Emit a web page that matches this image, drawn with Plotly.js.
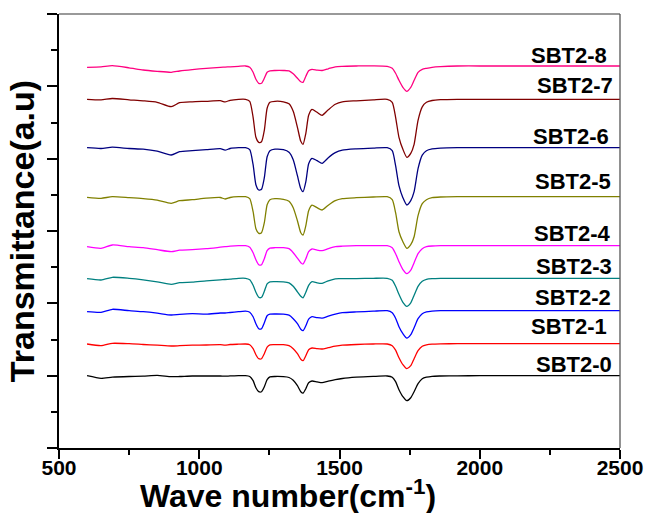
<!DOCTYPE html>
<html>
<head>
<meta charset="utf-8">
<script src="https://cdn.plot.ly/plotly-3.0.1.min.js"></script>
<style>html,body{margin:0;padding:0;background:#fff;}#chart{width:647px;height:513px;}</style>
</head>
<body>
<div id="chart"></div>
<script>
// Wave number grid (cm^-1)
const wavenumber = [600, 650, 690, 750, 800, 850, 900, 930, 975, 1025, 1075, 1092, 1110, 1140, 1165, 1180, 1192, 1202, 1212, 1222, 1232, 1242, 1252, 1270, 1300, 1320, 1335, 1350, 1362, 1370, 1380, 1390, 1402, 1420, 1438, 1460, 1485, 1510, 1560, 1620, 1670, 1688, 1700, 1712, 1726, 1740, 1754, 1766, 1780, 1795, 1810, 1830, 1860, 1920, 2000, 2100, 2200, 2300, 2400, 2500];

// Transmittance (a.u., offset-stacked)
const sbt2_0 = [72.3, 69.7, 70.8, 71.5, 71.8, 72.6, 71.3, 71.5, 72.0, 72.0, 72.0, 71.8, 72.1, 72.3, 72.3, 71.5, 67.3, 60.3, 56.3, 56.3, 61.3, 68.3, 71.1, 71.5, 71.3, 70.5, 67.8, 62.3, 56.3, 54.8, 59.3, 65.3, 67.0, 66.1, 65.3, 66.8, 68.3, 69.5, 70.8, 71.6, 72.0, 70.8, 66.3, 58.3, 51.3, 47.3, 50.3, 56.3, 64.3, 69.3, 70.8, 71.7, 72.0, 72.2, 72.3, 72.3, 72.3, 72.3, 72.3, 72.3];
const sbt2_1 = [104.0, 102.3, 104.7, 104.3, 103.5, 102.8, 102.0, 102.3, 102.8, 103.0, 103.3, 102.8, 103.5, 103.8, 104.0, 103.3, 99.3, 93.3, 89.3, 89.3, 94.3, 100.8, 103.1, 103.3, 103.3, 102.3, 99.3, 94.3, 88.8, 87.3, 92.3, 98.3, 100.0, 99.3, 99.0, 100.3, 101.8, 102.8, 103.5, 104.0, 104.0, 102.3, 97.8, 90.3, 83.3, 79.3, 82.3, 89.3, 97.3, 101.8, 103.1, 103.8, 104.1, 104.3, 104.3, 104.3, 104.3, 104.3, 104.3, 104.3];
const sbt2_2 = [136.3, 135.7, 138.7, 137.3, 136.3, 134.8, 133.0, 133.7, 134.3, 133.8, 135.0, 135.0, 135.5, 136.3, 136.8, 135.8, 131.3, 124.3, 119.3, 119.3, 125.3, 132.3, 133.8, 134.0, 133.8, 132.8, 129.3, 124.3, 118.8, 117.3, 122.3, 128.8, 131.3, 130.3, 129.8, 131.8, 133.8, 135.3, 136.1, 136.8, 137.3, 135.3, 129.8, 121.3, 114.3, 109.8, 113.3, 120.3, 129.3, 134.3, 136.1, 136.9, 137.3, 137.3, 137.3, 137.3, 137.3, 137.3, 137.3, 137.3];
const sbt2_3 = [169.3, 168.0, 170.7, 169.7, 168.2, 166.2, 163.7, 165.3, 165.9, 167.2, 168.2, 168.5, 168.9, 169.7, 169.7, 168.2, 162.7, 155.7, 150.7, 150.7, 156.7, 164.2, 166.2, 166.4, 166.2, 165.2, 161.7, 156.2, 151.7, 150.2, 155.7, 162.7, 166.3, 165.2, 164.7, 167.2, 169.2, 169.3, 169.4, 169.7, 169.7, 167.7, 161.7, 153.7, 145.7, 141.7, 145.2, 152.7, 161.7, 166.7, 168.7, 169.4, 169.7, 169.7, 169.7, 169.7, 169.7, 169.7, 169.7, 169.7];
const sbt2_4 = [201.3, 199.7, 203.0, 201.3, 200.3, 198.3, 196.3, 197.8, 198.3, 199.3, 200.8, 201.3, 201.8, 202.3, 202.3, 200.8, 195.3, 188.3, 183.3, 183.3, 189.3, 197.3, 199.8, 200.3, 200.3, 199.3, 195.3, 189.8, 185.3, 184.0, 189.3, 196.3, 199.0, 197.8, 197.3, 199.3, 201.3, 201.8, 202.3, 202.3, 202.3, 200.3, 194.3, 186.3, 178.3, 174.3, 177.8, 185.3, 194.3, 199.3, 201.3, 202.0, 202.3, 202.3, 202.3, 202.3, 202.3, 202.3, 202.3, 202.3];
const sbt2_5 = [250.7, 249.7, 251.3, 250.3, 249.3, 247.8, 244.7, 247.3, 248.3, 249.8, 250.5, 249.0, 250.5, 251.3, 251.3, 249.3, 236.3, 219.3, 214.7, 215.3, 225.3, 243.3, 248.3, 249.3, 248.7, 246.8, 240.3, 227.3, 215.3, 213.0, 222.3, 237.3, 242.8, 240.3, 238.0, 242.8, 247.3, 249.3, 250.3, 251.0, 251.3, 248.3, 235.3, 216.3, 206.3, 199.7, 203.3, 211.3, 232.3, 244.3, 248.3, 250.3, 251.0, 251.3, 251.3, 251.3, 251.3, 251.3, 251.3, 251.3];
const sbt2_6 = [300.3, 299.5, 300.8, 299.5, 298.8, 296.8, 293.0, 296.3, 297.3, 298.3, 299.3, 297.8, 299.5, 300.3, 300.3, 298.3, 283.3, 263.3, 258.0, 258.8, 270.3, 291.3, 297.3, 298.8, 298.3, 295.8, 288.3, 272.3, 259.3, 256.3, 266.3, 284.3, 289.7, 287.3, 284.7, 290.3, 295.3, 297.8, 299.1, 299.9, 300.3, 297.3, 282.3, 262.3, 250.3, 243.0, 247.3, 256.3, 279.3, 292.8, 297.3, 299.1, 299.9, 300.3, 300.3, 300.3, 300.3, 300.3, 300.3, 300.3];
const sbt2_7 = [348.7, 348.2, 349.5, 348.2, 347.2, 345.7, 341.3, 345.3, 346.2, 346.7, 347.3, 346.1, 347.7, 348.7, 348.7, 346.7, 330.7, 310.7, 305.7, 306.2, 317.7, 339.7, 345.7, 346.7, 346.2, 344.2, 336.7, 320.7, 306.7, 303.7, 314.7, 332.7, 338.7, 335.7, 332.7, 338.2, 343.7, 346.2, 347.2, 348.2, 348.7, 345.7, 330.7, 310.7, 298.7, 290.7, 294.7, 303.7, 327.7, 341.2, 345.7, 347.5, 348.3, 348.7, 348.7, 348.7, 348.7, 348.7, 348.7, 348.7];
const sbt2_8 = [380.7, 381.2, 382.3, 380.2, 378.0, 376.7, 375.7, 377.0, 378.4, 379.7, 380.7, 380.9, 381.2, 381.7, 382.0, 380.7, 375.7, 368.7, 364.7, 364.7, 369.7, 375.7, 377.2, 377.5, 377.5, 377.2, 374.2, 369.7, 366.2, 365.7, 371.7, 377.2, 378.7, 377.9, 377.5, 379.2, 381.2, 381.7, 382.0, 382.2, 381.7, 379.7, 374.7, 367.7, 360.7, 356.7, 360.7, 367.7, 375.7, 378.7, 379.7, 380.7, 381.4, 382.0, 382.0, 382.0, 382.0, 382.0, 382.0, 382.0];

const seriesNames = ['SBT2-0', 'SBT2-1', 'SBT2-2', 'SBT2-3', 'SBT2-4', 'SBT2-5', 'SBT2-6', 'SBT2-7', 'SBT2-8'];
const seriesValues = [sbt2_0, sbt2_1, sbt2_2, sbt2_3, sbt2_4, sbt2_5, sbt2_6, sbt2_7, sbt2_8];
const xTickValues = [500, 1000, 1500, 2000, 2500];

// styling (kept separate from data)
const seriesColors = ['#000000', '#ff0000', '#0000ff', '#008080', '#ff00ff', '#808000', '#000080', '#800000', '#ff0080'];
const labelPos = [[2479, 83.7], [2461, 121.3], [2475, 150.3], [2479, 181.3], [2475, 215], [2475, 266.3], [2468, 311.3], [2482, 362.3], [2461, 393]];

const FONT = 'Liberation Sans, Arial, sans-serif';

const traces = seriesValues.map((vals, i) => ({
  x: wavenumber,
  y: vals,
  type: 'scatter',
  mode: 'lines',
  name: seriesNames[i],
  line: {color: seriesColors[i], width: 1.3, shape: 'spline', smoothing: 0.6},
  hoverinfo: 'x+y+name'
}));

const annotations = seriesNames.map((n, i) => ({
  x: labelPos[i][0], y: labelPos[i][1], xref: 'x', yref: 'y',
  text: n, showarrow: false, xanchor: 'right', yanchor: 'middle',
  font: {family: FONT, size: 22, color: '#000', weight: 'bold'}
}));
annotations.push({
  x: 0.408, y: -0.105, xref: 'paper', yref: 'paper',
  text: 'Wave number(cm<sup>-1</sup>)', showarrow: false,
  xanchor: 'center', yanchor: 'middle',
  font: {family: FONT, size: 32, color: '#000', weight: 'bold'}
});

const yTop = 434;
const layout = {
  width: 647, height: 513,
  margin: {l: 59, r: 27, t: 14, b: 65},
  paper_bgcolor: '#fff', plot_bgcolor: '#fff',
  showlegend: false,
  font: {family: FONT, color: '#000'},
  xaxis: {
    range: [500, 2500], tickvals: xTickValues, ticktext: xTickValues.map(String),
    showgrid: false, zeroline: false,
    showline: true, linecolor: '#000', linewidth: 2,
    ticks: 'outside', ticklen: 9, tickwidth: 2, tickcolor: '#000',
    ticklabelstandoff: -9,
    minor: {dtick: 250, tick0: 500, ticks: 'outside', ticklen: 5, tickwidth: 2, tickcolor: '#000', showgrid: false},
    tickfont: {family: FONT, size: 21, color: '#000', weight: 'bold'},
    fixedrange: true
  },
  yaxis: {
    range: [0, yTop], tick0: 0, dtick: yTop / 6,
    showticklabels: false, showgrid: false, zeroline: false,
    showline: true, linecolor: '#000', linewidth: 2,
    ticks: 'outside', ticklen: 10, tickwidth: 2, tickcolor: '#000',
    minor: {dtick: yTop / 12, tick0: 0, ticks: 'outside', ticklen: 6, tickwidth: 2, tickcolor: '#000', showgrid: false},
    title: {text: 'Transmittance(a.u)', standoff: 2, font: {family: FONT, size: 34, color: '#000', weight: 'bold'}},
    fixedrange: true
  },
  shapes: [
    {type: 'line', xref: 'paper', yref: 'paper', x0: 0, x1: 1, y0: 1, y1: 1, line: {color: '#777', width: 1.3}},
    {type: 'line', xref: 'paper', yref: 'paper', x0: 1, x1: 1, y0: 0, y1: 1, line: {color: '#555', width: 1.3}}
  ],
  annotations: annotations
};

Plotly.newPlot('chart', traces, layout, {displayModeBar: false, staticPlot: true});
</script>
</body>
</html>
